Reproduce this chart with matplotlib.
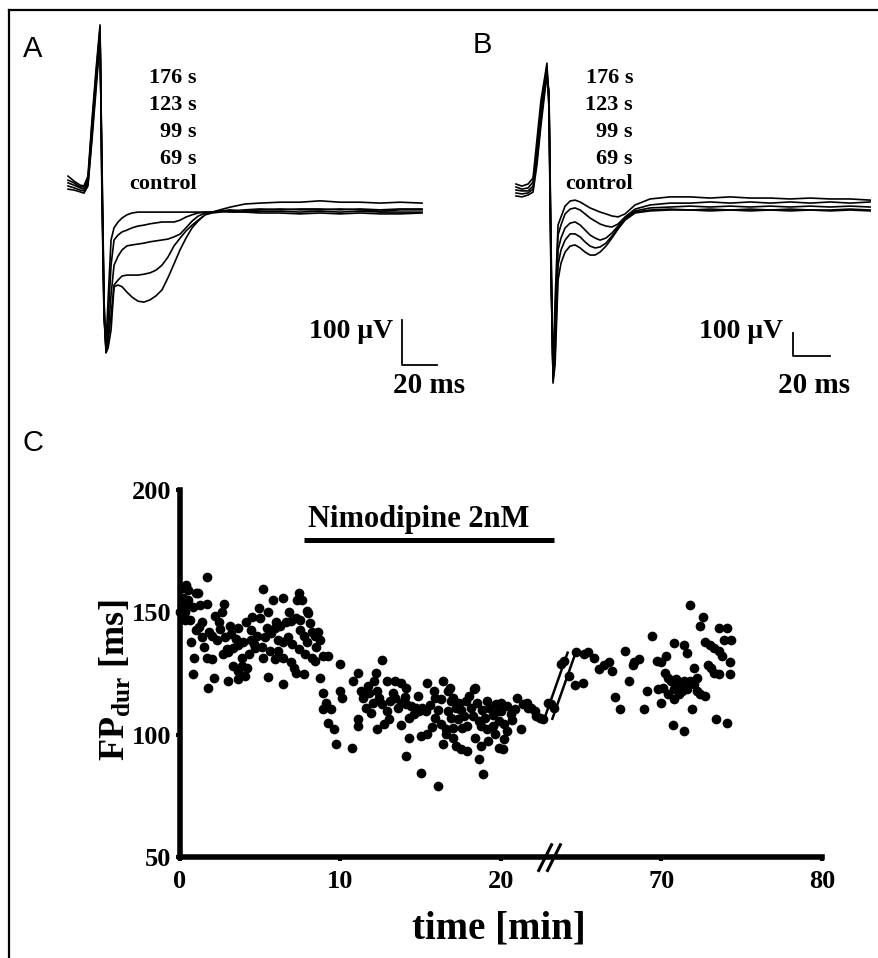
import matplotlib
matplotlib.use("Agg")
import matplotlib.pyplot as plt
from matplotlib.lines import Line2D

plt.rcParams["font.family"] = ["Liberation Serif", "DejaVu Serif"]
plt.rcParams["mathtext.fontset"] = "custom"
plt.rcParams["mathtext.rm"] = "Liberation Serif:bold"
plt.rcParams["mathtext.bf"] = "Liberation Serif:bold"

# ---- panel A: field potentials (ms, uV) ----
t_a = [0, 3.4, 6.9, 9.1, 11.4, 13.7, 16.0, 18.3, 19.4, 20.6, 21.7, 22.9, 24.6, 26.3,
       28.6, 30.9, 33.7, 36.6, 40.0, 43.4, 46.9, 50.3, 53.7, 57.1, 60.6, 64.0, 67.4,
       70.9, 74.3, 78.3, 82.3, 86.9, 92.6, 101.1, 109.7, 121.1, 132.6, 144.0, 155.4,
       166.9, 178.3, 189.7, 202.3]
a_176 = [22, 11, 2, 0, 22, 147, 258, 358, -31, -298, -353, -253, -120, -93, -80, -71, -64,
         -60, -58, -58, -58, -58, -58, -58, -58, -58, -58, -58, -58, -58, -58, -56, -58, -58,
         -60, -60, -62, -60, -62, -60, -62, -62, -60]
a_123 = [13, 7, -2, -2, 16, 136, 247, 351, -9, -287, -360, -298, -176, -120, -109, -102, -98,
         -93, -89, -87, -84, -82, -80, -80, -80, -76, -69, -64, -60, -58, -58, -56, -56, -56,
         -56, -56, -58, -56, -58, -56, -58, -58, -58]
a_99 = [7, 2, -4, -7, 11, 124, 236, 342, 13, -276, -364, -331, -242, -176, -156, -142, -133,
        -131, -129, -127, -124, -122, -120, -118, -113, -107, -93, -78, -67, -60, -58, -56,
        -53, -56, -53, -51, -53, -53, -51, -53, -56, -53, -53]
a_69 = [0, -4, -9, -11, 4, 113, 224, 333, 36, -264, -369, -347, -287, -220, -209, -200, -198,
        -198, -198, -196, -193, -187, -176, -158, -133, -116, -100, -87, -76, -64, -60, -58,
        -56, -53, -51, -53, -51, -51, -53, -51, -53, -51, -51]
a_ctrl = [-7, -9, -13, -16, 0, 102, 213, 324, 58, -253, -371, -360, -320, -224, -220, -224,
          -236, -247, -256, -258, -253, -244, -231, -204, -173, -142, -116, -93, -78, -64,
          -58, -53, -47, -40, -38, -36, -36, -33, -36, -36, -38, -36, -38]

# ---- panel B ----
t_b = [0, 3.2, 6.5, 9.2, 11.3, 13.5, 15.7, 16.7, 17.8, 18.9, 20.0, 21.1, 22.7, 24.3, 26.5,
       29.2, 31.9, 34.6, 37.3, 40.0, 42.7, 45.4, 48.6, 51.8, 55.1, 58.9, 64.3, 72.4, 83.2,
       94.0, 104.8, 115.6, 126.4, 137.2, 148.0, 158.8, 169.6, 180.4, 191.2]
b_176 = [26, 17, 26, 52, 218, 392, 500, 552, 348, -392, -783, -479, -152, -117, -70, -48, -44,
         -52, -65, -78, -87, -96, -104, -113, -117, -104, -65, -39, -30, -30, -35, -30, -35,
         -35, -39, -35, -39, -39, -44]
b_123 = [13, 4, 9, 35, 183, 357, 487, 539, 370, -348, -805, -566, -196, -152, -104, -83, -78,
         -87, -104, -122, -135, -148, -157, -161, -148, -117, -83, -65, -57, -57, -52, -57,
         -52, -57, -52, -57, -52, -57, -52]
b_99 = [0, -4, -4, 17, 152, 326, 470, 522, 392, -305, -818, -653, -261, -209, -165, -144, -139,
        -152, -174, -196, -209, -218, -209, -187, -157, -122, -91, -78, -74, -70, -74, -70,
        -74, -70, -74, -70, -74, -70, -74]
b_69 = [-13, -17, -13, 4, 131, 305, 452, 505, 413, -261, -827, -718, -326, -261, -218, -191,
        -191, -204, -226, -244, -252, -248, -231, -200, -165, -126, -96, -87, -83, -87, -83,
        -87, -83, -87, -83, -87, -87, -83, -87]
b_ctrl = [-26, -30, -22, -9, 109, 283, 435, 487, 435, -218, -840, -761, -392, -318, -270, -244,
          -239, -252, -270, -283, -283, -270, -244, -209, -170, -131, -100, -91, -87, -87, -91,
          -87, -91, -87, -91, -87, -91, -87, -91]

trace_labels = ["176 s", "123 s", "99 s", "69 s", "control"]

# ---- panel C: FP duration (min, ms) ----
t_base = [0.0, 0.1, 0.1, 0.2, 0.3, 0.3, 0.4, 0.4, 0.5, 0.5,
          0.6, 0.7, 0.8, 0.8, 0.9, 1.0, 1.0, 1.1, 1.2, 1.25,
          1.4, 1.4, 1.5, 1.67, 1.67, 1.7, 1.75, 1.8, 2.0, 2.0,
          2.1, 2.2, 2.3, 2.4, 2.5, 2.6, 2.7, 2.77, 2.8, 2.9,
          3.0, 3.0, 3.1, 3.2, 3.3, 3.3, 3.5, 3.6, 3.6, 3.6,
          3.6, 3.85, 3.85, 3.9, 4.05, 4.1, 4.2, 4.3, 4.4, 4.4,
          4.5, 4.6, 4.7, 4.8, 4.9, 5.0, 5.1, 5.2, 5.2, 5.3,
          5.4, 5.5, 5.5, 5.6, 5.7, 5.8, 5.9, 5.9, 6.0, 6.1,
          6.1, 6.25, 6.4, 6.4, 6.4, 6.4, 6.6, 6.7, 6.8, 6.9,
          6.9, 7.0, 7.1, 7.2, 7.2, 7.3, 7.4, 7.4, 7.5, 7.5,
          7.6, 7.7, 7.7, 7.8, 7.9, 7.9, 8.0, 8.1, 8.25, 8.25,
          8.4, 8.4, 8.5, 8.6, 8.75, 8.75, 8.9]
fp_base = [150, 153, 160, 156, 150, 147, 161, 153, 155, 159,
           147, 138, 152, 125, 131.5, 158, 142.6, 158, 144, 153,
           146, 140, 136, 164.5, 153.6, 131.5, 119, 142, 140.5, 131,
           123.3, 148.7, 138.5, 146, 143, 150, 133, 153.6, 139.8, 135,
           133.6, 122, 144.6, 141, 135.6, 128, 139, 143.8, 136.5, 126,
           122.9, 131.5, 128, 138, 124, 146, 127.4, 133, 142.6, 138.5,
           148, 137, 135.6, 140.5, 151.6, 147.5, 136, 159.4, 131.5, 139.8,
           143.4, 123.7, 150, 134, 141.4, 154.9, 143.8, 131, 146, 138.5,
           134.4, 144.6, 155.8, 137.7, 131.5, 120.9, 146, 140, 150, 146.3,
           129.5, 137, 127.4, 147.5, 125.4, 155, 158, 135, 147, 142.6,
           155, 140.5, 125, 133, 137.7, 150.5, 149.6, 145.5, 141.8, 131.5,
           140.5, 130.3, 136, 141.8, 138.5, 123.3, 132.3]

t_drug = [8.9, 8.9, 9.1, 9.2, 9.25, 9.4, 9.6, 9.7, 10.0, 10.0,
          10.1, 10.7, 10.8, 11.1, 11.1, 11.1, 11.3, 11.4, 11.6, 11.7,
          11.75, 11.9, 12.0, 12.1, 12.2, 12.3, 12.3, 12.4, 12.6, 12.6,
          12.7, 12.9, 12.9, 13.0, 13.1, 13.3, 13.4, 13.4, 13.6, 13.75,
          13.75, 13.8, 14.0, 14.1, 14.1, 14.1, 14.25, 14.25, 14.4, 14.6,
          14.7, 14.8, 14.9, 15.0, 15.0, 15.1, 15.3, 15.4, 15.4, 15.6,
          15.7, 15.8, 15.9, 15.9, 16.1, 16.1, 16.25, 16.25, 16.4, 16.4,
          16.6, 16.6, 16.7, 16.7, 16.8, 16.9, 16.9, 17.0, 17.0, 17.0,
          17.2, 17.2, 17.3, 17.4, 17.5, 17.5, 17.6, 17.7, 17.8, 17.9,
          17.9, 18.0, 18.1, 18.25, 18.3, 18.4, 18.4, 18.5, 18.6, 18.6,
          18.75, 18.75, 18.8, 18.9, 19.0, 19.1, 19.1, 19.2, 19.25, 19.5,
          19.5, 19.6, 19.7, 19.8, 19.9, 19.9, 20.0, 20.0, 20.1, 20.2,
          20.2, 20.4, 20.4, 20.6, 20.7, 20.9, 21.0, 21.25, 21.4, 21.6,
          21.7, 21.9, 22.1, 22.2, 22.4, 22.6, 22.9, 23.1, 23.3]
fp_drug = [117.2, 110.6, 113, 132.3, 104.9, 110.6, 102.4, 96.3, 129, 118,
           115, 94.6, 122, 125.4, 106.5, 103.6, 118, 115.1, 111, 120,
           117.2, 109, 113, 122, 125.4, 118, 102.4, 115, 130.7, 112.7,
           104.5, 122, 109.8, 106.5, 113.9, 117, 122, 115, 111, 121,
           113, 104, 115.5, 112.7, 119.2, 91.4, 107, 98.7, 111.9, 108.6,
           111, 116, 109.8, 99.5, 84.4, 111, 109.8, 121.3, 100.4, 112,
           103, 118, 115, 107, 110, 79, 114.7, 104.5, 122, 96.3,
           102.4, 100.4, 118, 109.8, 119, 113.9, 107, 115, 102.8, 98.7,
           111, 95.5, 106.5, 113, 110, 94.2, 102.8, 107.8, 113.9, 103.6,
           93.4, 116, 111, 107.8, 118.8, 119.2, 98.7, 113, 105.7, 90.1,
           103.6, 95.5, 110, 84, 107, 113.9, 102.4, 97.5, 111, 108,
           103.6, 100.4, 112.7, 109.8, 105.7, 94.6, 113, 109.8, 94.2, 104.5,
           98.3, 111.9, 101.6, 108.6, 106, 110.6, 115, 102.4, 112.7, 113,
           111, 111, 109.8, 107.8, 107, 106.5, 113, 112.7, 111]

t_wash = [63.75, 63.9, 64.25, 64.6, 64.7, 65.1, 65.2, 65.4, 65.8, 66.1,
          66.4, 66.75, 66.9, 67.1, 67.4, 67.7, 68.0, 68.25, 68.3, 68.6,
          68.9, 69.1, 69.4, 69.7, 69.8, 70.0, 70.0, 70.1, 70.2, 70.3,
          70.4, 70.4, 70.6, 70.7, 70.75, 70.75, 70.8, 70.9, 70.9, 71.1,
          71.1, 71.25, 71.4, 71.4, 71.4, 71.6, 71.6, 71.75, 71.75, 71.9,
          72.0, 72.0, 72.2, 72.2, 72.4, 72.4, 72.6, 72.7, 72.7, 72.9,
          73.0, 73.1, 73.25, 73.3, 73.4, 73.6, 73.6, 73.6, 73.75, 73.9,
          74.1, 74.1, 74.25, 74.25, 74.3]
fp_wash = [129, 130.3, 124, 120.5, 133.6, 121, 133, 133.6, 131.5, 127,
           128.3, 129.5, 126.2, 115.5, 110.6, 134.4, 122, 128.3, 129.5, 131,
           110.6, 118, 140.5, 130.3, 118.8, 129.5, 113, 119.2, 125.4, 132,
           123.3, 116.8, 122, 104, 137.3, 114.7, 118.8, 122.9, 119.2, 116.8,
           120.9, 118, 136.5, 101.6, 122, 133.2, 118.8, 152.9, 122, 110.6,
           127.4, 120.9, 123.3, 118, 144.6, 116.8, 148, 138, 116, 128.3,
           136.5, 127.4, 135.6, 125.4, 106.5, 143.4, 134.4, 125, 132.3, 138.5,
           143.4, 104.9, 129.5, 125, 138.5]

gap_min = 40            # minutes cut out of the time axis
x_ticks_min = [0, 10, 20, 70, 80]
nimodipine_min = [7.7, 23.3]

W, H = 879, 958


def fx(px):
    return px / W


def fy(py):
    return 1 - py / H


def shown(t):
    return t - gap_min if t > 40 else t


fig = plt.figure(figsize=(8.79, 9.58), dpi=100)

# frame of the scanned figure (top and left edges)
fig.add_artist(Line2D([fx(9), 1], [fy(10), fy(10)], color="k", lw=1.6))
fig.add_artist(Line2D([fx(9), fx(9)], [fy(10), 0], color="k", lw=1.6))

sans = dict(family=["Liberation Sans", "DejaVu Sans"], fontsize=21)

# panel A
ax_a = fig.add_axes([fx(40), fy(410), fx(480) - fx(40), fy(15) - fy(410)])
ax_a.set_xlim(-16, 235.4)
ax_a.set_ylim(-497.8, 380)
ax_a.axis("off")
for tr in [a_176, a_123, a_99, a_69, a_ctrl]:
    ax_a.plot(t_a, tr, color="k", lw=1.2)
bar_a = (190.8, -398)
ax_a.plot([bar_a[0], bar_a[0], bar_a[0] + 20], [bar_a[1] + 100, bar_a[1], bar_a[1]], color="k", lw=1.3)

# panel B
ax_b = fig.add_axes([fx(470), fy(410), fx(879) - fx(470), fy(15) - fy(410)])
ax_b.set_xlim(-24.84, 196.0)
ax_b.set_ylim(-957, 761.25)
ax_b.axis("off")
for tr in [b_176, b_123, b_99, b_69, b_ctrl]:
    ax_b.plot(t_b, tr, color="k", lw=1.2)
bar_b = (149.6, -722)
ax_b.plot([bar_b[0], bar_b[0], bar_b[0] + 20], [bar_b[1] + 100, bar_b[1], bar_b[1]], color="k", lw=1.3)

fig.text(fx(23), fy(57), "A", ha="left", va="baseline", **sans)
fig.text(fx(473), fy(53), "B", ha="left", va="baseline", **sans)
fig.text(fx(23), fy(451), "C", ha="left", va="baseline", **sans)

for lab, yb in zip(trace_labels, [83, 110, 137, 164, 189]):
    fig.text(fx(197), fy(yb), lab, ha="right", va="baseline", fontsize=16, fontweight="bold")
    fig.text(fx(633), fy(yb), lab, ha="right", va="baseline", fontsize=16, fontweight="bold")

fig.text(fx(393), fy(338), "100 \u03bcV", ha="right", va="baseline", fontsize=20, fontweight="bold")
fig.text(fx(393), fy(393), "20 ms", ha="left", va="baseline", fontsize=21, fontweight="bold")
fig.text(fx(783), fy(338), "100 \u03bcV", ha="right", va="baseline", fontsize=20, fontweight="bold")
fig.text(fx(778), fy(393), "20 ms", ha="left", va="baseline", fontsize=21, fontweight="bold")

# panel C
ax = fig.add_axes([fx(180), fy(857), fx(822) - fx(180), fy(490) - fy(857)])
ax.set_xlim(0, 40)
ax.set_ylim(50, 200)
t_all = t_base + t_drug + t_wash
fp_all = fp_base + fp_drug + fp_wash
ax.plot([shown(t) for t in t_all], fp_all, "o", color="k", ms=7, mec="none", clip_on=False)

for s in ["top", "right"]:
    ax.spines[s].set_visible(False)
for s in ["left", "bottom"]:
    ax.spines[s].set_linewidth(4)
ax.set_xticks([shown(t) for t in x_ticks_min])
ax.set_xticklabels([str(t) for t in x_ticks_min])
ax.set_yticks([50, 100, 150, 200])
ax.tick_params(length=3, width=3, labelsize=19)
ax.tick_params(axis="x", pad=6)
ax.tick_params(axis="y", pad=3)
for lab in ax.get_xticklabels() + ax.get_yticklabels():
    lab.set_fontweight("bold")

# axis break on the time axis and in the data
brk = 22.8
for dx in [0, 0.55]:
    ax.plot([brk - 0.45 + dx, brk + 0.35 + dx], [44.5, 55], color="k", lw=2.2, clip_on=False)
for dx in [0, 0.5]:
    ax.plot([brk - 0.1 + dx, brk + 1.35 + dx], [106.5, 133.5], color="k", lw=1.8)

# nimodipine application bar
ax.plot(nimodipine_min, [179.5, 179.5], color="k", lw=3.6, solid_capstyle="butt", clip_on=False)
ax.text(sum(nimodipine_min) / 2 - 0.6, 184.8, "Nimodipine 2nM", ha="center", va="baseline",
        fontsize=22, fontweight="bold")

fig.text(fx(499), fy(938), "time [min]", ha="center", va="baseline", fontsize=28, fontweight="bold")
fig.text(fx(115), fy(680), r"FP$_{\rm dur}$ [ms]", rotation=90, ha="center", va="center",
         fontsize=26, fontweight="bold")

fig.savefig("out.png", dpi=100)
